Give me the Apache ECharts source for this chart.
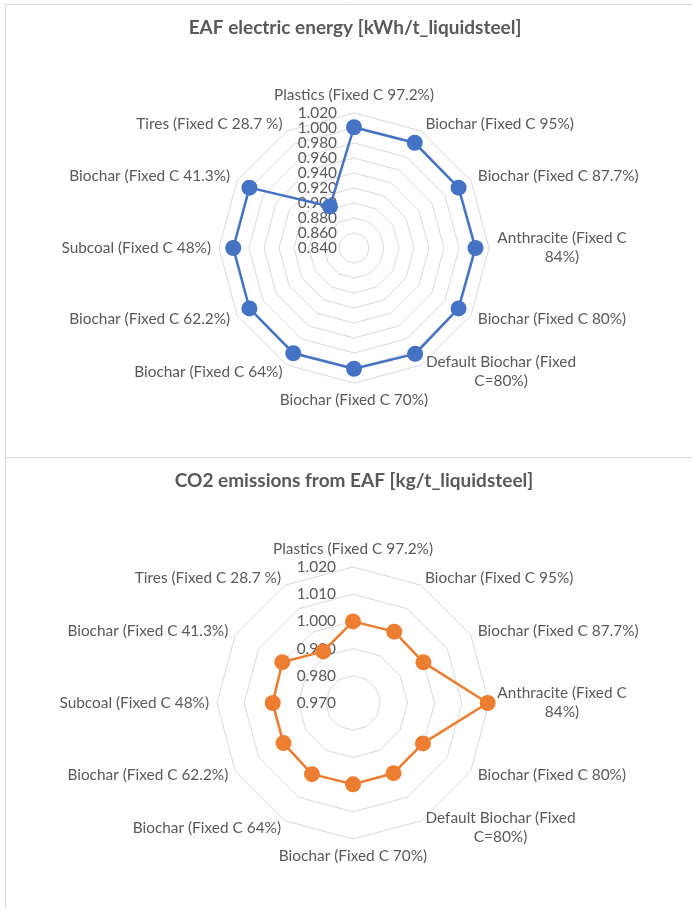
<!DOCTYPE html>
<html><head><meta charset="utf-8">
<script src="https://cdn.jsdelivr.net/npm/echarts@6/dist/echarts.min.js"></script>
<style>html,body{margin:0;padding:0;background:#fff}#c{width:692px;height:909px}</style>
</head><body><div id="c"></div>
<script>
// ---- data ----
const categories = [
  'Plastics (Fixed C 97.2%)', 'Biochar (Fixed C 95%)', 'Biochar (Fixed C 87.7%)',
  'Anthracite (Fixed C\n84%)', 'Biochar (Fixed C 80%)', 'Default Biochar (Fixed\nC=80%)',
  'Biochar (Fixed C 70%)', 'Biochar (Fixed C 64%)', 'Biochar (Fixed C 62.2%)',
  'Subcoal (Fixed C 48%)', 'Biochar (Fixed C 41.3%)', 'Tires (Fixed C 28.7 %)'
];
const energyValues = [1.001, 1.002, 1.001, 1.002, 1.001, 1.003, 1.001, 1.002, 1.001, 1.001, 1.001, 0.904];
const co2Values = [1.0000, 1.0003, 0.9999, 1.0195, 0.9997, 0.9998, 0.9999, 1.0002, 0.9995, 0.9995, 1.0000, 0.9919];
const energyTicks = ['0.840','0.860','0.880','0.900','0.920','0.940','0.960','0.980','1.000','1.020'];
const co2Ticks = ['0.970','0.980','0.990','1.000','1.010','1.020'];
const titles = ['EAF electric energy [kWh/t_liquidsteel]', 'CO2 emissions from EAF [kg/t_liquidsteel]'];

// ---- helpers ----
const FONT = 'Lato';
const LABEL_SIZE = 15.4;
const TICK_SIZE = 15.4;
const TEXT = '#595959';
// Excel draws clockwise; ECharts radar is counter-clockwise, so reorder
const order = [0].concat(categories.map((_, i) => i).slice(1).reverse());
const reorder = arr => order.map(i => arr[i]);

const ctx = document.createElement('canvas').getContext('2d');
ctx.font = LABEL_SIZE + 'px ' + FONT;
const richStyles = {};
const nameFormatter = (name) => {
  if (name.indexOf('\n') < 0) return name;
  const lines = name.split('\n');
  const w = Math.ceil(Math.max(...lines.map(l => ctx.measureText(l).width)));
  const key = 'w' + w;
  richStyles[key] = {width: w, align: 'center', fontSize: LABEL_SIZE, fontFamily: FONT, color: TEXT, lineHeight: 19};
  return lines.map(l => '{' + key + '|' + l + '}').join('\n');
};
categories.forEach(nameFormatter);

function makeRadar(center, radius, ticks) {
  const min = parseFloat(ticks[0]), max = parseFloat(ticks[ticks.length - 1]);
  return {
    center: center, radius: radius, startAngle: 90, shape: 'polygon',
    splitNumber: ticks.length - 1,
    indicator: reorder(categories).map(n => ({name: n, min: min, max: max})),
    nameGap: 8,
    axisName: {color: TEXT, fontSize: LABEL_SIZE, fontFamily: FONT, lineHeight: 19,
      formatter: nameFormatter, rich: richStyles},
    splitLine: {lineStyle: {color: '#d9d9d9', width: 1}},
    splitArea: {show: false},
    axisLine: {show: false}, axisTick: {show: false}, axisLabel: {show: false}
  };
}
function makeY(idx, ticks) {
  const min = parseFloat(ticks[0]), max = parseFloat(ticks[ticks.length - 1]);
  return {
    type: 'value', gridIndex: idx, min: min, max: max,
    interval: Math.round((max - min) / (ticks.length - 1) * 1000) / 1000,
    axisLine: {show: false}, axisTick: {show: false}, splitLine: {show: false},
    axisLabel: {margin: 17, fontSize: TICK_SIZE, fontFamily: FONT, color: TEXT, lineHeight: 15,
      showMinLabel: true, showMaxLabel: true, hideOverlap: false,
      formatter: v => ticks[Math.round((v - min) / (max - min) * (ticks.length - 1))]},
    z: 1
  };
}

const chart = echarts.init(document.getElementById('c'), null, {renderer: 'canvas'});
chart.setOption({
  backgroundColor: '#fff',
  animation: false,
  graphic: [
    {type: 'rect', shape: {x: 5.5, y: 4.5, width: 720, height: 453}, style: {fill: 'none', stroke: '#d9d9d9', lineWidth: 1}, z: -10},
    {type: 'rect', shape: {x: 5.5, y: 457.5, width: 720, height: 470}, style: {fill: 'none', stroke: '#d9d9d9', lineWidth: 1}, z: -10}
  ],
  title: [
    {text: titles[0], left: 350, top: 13, textAlign: 'center',
      textStyle: {fontFamily: FONT, fontSize: 19, fontWeight: 'bold', color: TEXT}},
    {text: titles[1], left: 349, top: 466, textAlign: 'center',
      textStyle: {fontFamily: FONT, fontSize: 19, fontWeight: 'bold', color: TEXT}}
  ],
  grid: [
    {left: 354, top: 113, width: 10, height: 135},
    {left: 353, top: 567, width: 10, height: 136}
  ],
  xAxis: [
    {type: 'value', gridIndex: 0, show: false},
    {type: 'value', gridIndex: 1, show: false}
  ],
  yAxis: [makeY(0, energyTicks), makeY(1, co2Ticks)],
  radar: [
    makeRadar([354, 248], 135, energyTicks),
    makeRadar([353, 703], 136, co2Ticks)
  ],
  series: [
    {type: 'radar', radarIndex: 0, symbol: 'circle', symbolSize: 16, z: 5,
      lineStyle: {color: '#4472C4', width: 2.5}, itemStyle: {color: '#4472C4'},
      data: [{value: reorder(energyValues)}]},
    {type: 'radar', radarIndex: 1, symbol: 'circle', symbolSize: 16, z: 5,
      lineStyle: {color: '#ED7D31', width: 2.5}, itemStyle: {color: '#ED7D31'},
      data: [{value: reorder(co2Values)}]}
  ]
});
</script>
</body></html>
